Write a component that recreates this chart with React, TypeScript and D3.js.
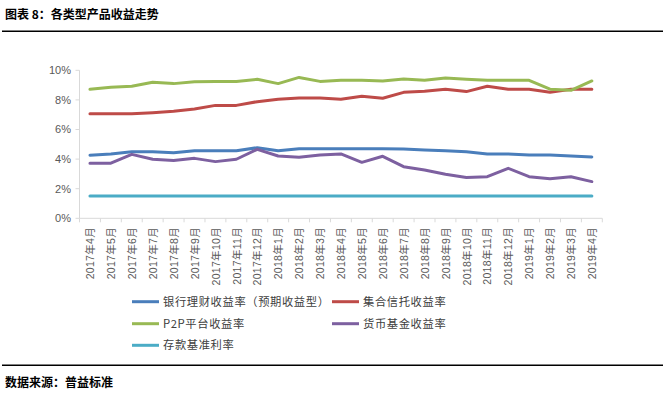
import React from "react";
import * as d3 from "d3";

const months = [
  "2017年4月","2017年5月","2017年6月","2017年7月","2017年8月","2017年9月","2017年10月","2017年11月","2017年12月",
  "2018年1月","2018年2月","2018年3月","2018年4月","2018年5月","2018年6月","2018年7月","2018年8月","2018年9月",
  "2018年10月","2018年11月","2018年12月","2019年1月","2019年2月","2019年3月","2019年4月",
];
const bank = [4.26,4.35,4.5,4.5,4.43,4.57,4.57,4.57,4.77,4.57,4.7,4.7,4.7,4.7,4.7,4.68,4.62,4.57,4.5,4.35,4.35,4.28,4.28,4.21,4.14];
const trust = [7.07,7.07,7.07,7.14,7.23,7.38,7.63,7.63,7.88,8.04,8.13,8.13,8.04,8.24,8.11,8.51,8.58,8.72,8.56,8.92,8.72,8.72,8.51,8.72,8.72];
const p2p = [8.72,8.85,8.92,9.19,9.1,9.23,9.25,9.25,9.39,9.1,9.52,9.25,9.32,9.32,9.28,9.41,9.32,9.48,9.39,9.32,9.32,9.32,8.72,8.65,9.28];
const money = [3.72,3.72,4.32,3.99,3.9,4.05,3.83,3.99,4.66,4.21,4.12,4.28,4.35,3.78,4.19,3.49,3.26,2.97,2.75,2.81,3.38,2.81,2.68,2.81,2.48];
const deposit = [1.5,1.5,1.5,1.5,1.5,1.5,1.5,1.5,1.5,1.5,1.5,1.5,1.5,1.5,1.5,1.5,1.5,1.5,1.5,1.5,1.5,1.5,1.5,1.5,1.5];
const yTicks = [0, 2, 4, 6, 8, 10];

const seriesNames = ["银行理财收益率（预期收益型）", "集合信托收益率", "P2P平台收益率", "货币基金收益率", "存款基准利率"];
const seriesColors = ["#4a7ebb", "#be4b48", "#98b954", "#7d60a0", "#4bacc6"];
const seriesData = [bank, trust, p2p, money, deposit];
// draw order (later on top)
const drawOrder = [4, 1, 2, 0, 3];

const W = 665, H = 399;
const CJK = "'Noto Sans CJK SC', sans-serif";
const LAT = "'Liberation Sans', Arial, 'Noto Sans CJK SC', sans-serif";

export default function App() {
  const x = d3.scaleBand<string>().domain(months).range([79.5, 602.3]).padding(0);
  const y = d3.scaleLinear().domain([0, 10]).range([218.3, 70.3]);
  const cx = (m: string) => (x(m) as number) + x.bandwidth() / 2;
  const line = d3.line<number>().x((_, i) => cx(months[i])).y((d) => y(d));
  const tickXs = months.map((m) => x(m) as number).concat([602.3]);
  const axisColor = "#d9d9d9";

  const legend = [
    { i: 0, lx: 132, ly: 301.7 },
    { i: 1, lx: 332, ly: 301.7 },
    { i: 2, lx: 132, ly: 323.7 },
    { i: 3, lx: 332, ly: 323.7 },
    { i: 4, lx: 132, ly: 345.3 },
  ];

  return (
    <svg width={W} height={H} style={{ position: "absolute", left: 0, top: 0, background: "#fff" }}>
      <rect width={W} height={H} fill="#fff" />
      <text x={5} y={19} fontFamily={CJK} fontWeight="bold" fontSize={12} fill="#000">图表 8：各类型产品收益走势</text>
      <line x1={2} x2={663} y1={31.3} y2={31.3} stroke="#000" strokeWidth={1.5} />

      {/* y axis */}
      <line x1={79.5} x2={79.5} y1={70.3} y2={218.3} stroke={axisColor} strokeWidth={1} />
      {yTicks.map((t) => (
        <g key={t}>
          <line x1={75.5} x2={79.5} y1={y(t)} y2={y(t)} stroke={axisColor} />
          <text x={71} y={y(t)} dy="0.35em" textAnchor="end" fontFamily={LAT} fontSize={11} fill="#595959">{t}%</text>
        </g>
      ))}

      {/* x axis */}
      <line x1={79.5} x2={602.3} y1={218.3} y2={218.3} stroke={axisColor} />
      {tickXs.map((tx, i) => (
        <line key={i} x1={tx} x2={tx} y1={218.3} y2={222.3} stroke={axisColor} />
      ))}
      {months.map((m) => (
        <text key={m} transform={`translate(${cx(m) + 0.5},227) rotate(-90)`} textAnchor="end" dy="0.35em"
          fontFamily={LAT} fontSize={10.5} letterSpacing={0.3} fill="#595959">{m}</text>
      ))}

      {/* series */}
      {drawOrder.map((si) => (
        <path key={si} d={line(seriesData[si]) as string} fill="none" stroke={seriesColors[si]} strokeWidth={3}
          strokeLinejoin="round" strokeLinecap="round" />
      ))}

      {/* legend */}
      {legend.map((l) => (
        <g key={l.i}>
          <line x1={l.lx} x2={l.lx + 27} y1={l.ly} y2={l.ly} stroke={seriesColors[l.i]} strokeWidth={3} />
          <text x={l.lx + 31} y={l.ly} dy="0.35em" fontFamily={CJK} fontSize={11.3} letterSpacing={0.6} fill="#404040">{seriesNames[l.i]}</text>
        </g>
      ))}

      <line x1={2} x2={663} y1={365.3} y2={365.3} stroke="#000" strokeWidth={1.5} />
      <text x={5} y={387} fontFamily={CJK} fontWeight="bold" fontSize={12} fill="#000">数据来源：普益标准</text>
    </svg>
  );
}
